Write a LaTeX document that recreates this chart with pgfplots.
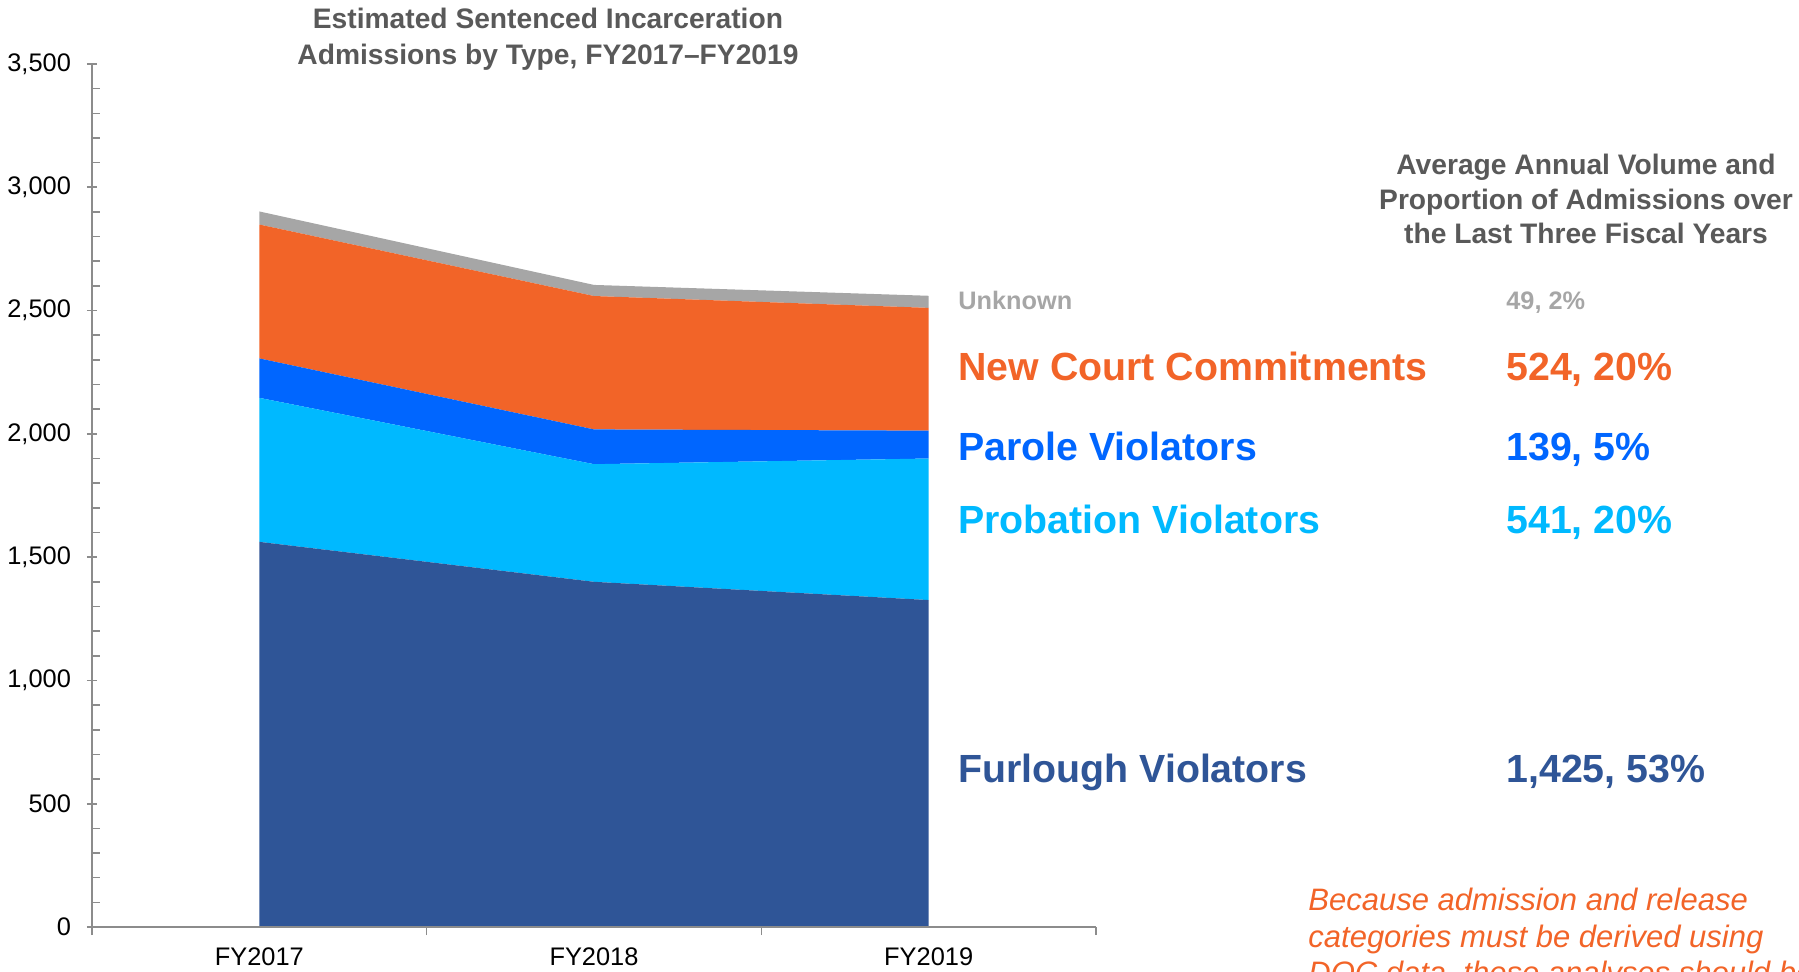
\documentclass[border=0pt]{standalone}
\usepackage{pgfplots}
\pgfplotsset{compat=1.18}
\usepackage{fontspec}
\setmainfont{Liberation Sans}
\definecolor{furl}{HTML}{2F5597}
\definecolor{prob}{HTML}{00B9FF}
\definecolor{parole}{HTML}{0066FF}
\definecolor{ncc}{HTML}{F26428}
\definecolor{unk}{HTML}{A6A6A6}
\definecolor{titlegray}{HTML}{595959}
\definecolor{axgray}{HTML}{8C8C8C}
\begin{document}
\begin{tikzpicture}
\useasboundingbox (0,0) rectangle (899.5pt,485.5pt);
\begin{axis}[
  at={(46pt,22pt)}, anchor=south west,
  scale only axis, width=502pt, height=431.5pt,
  xmin=-0.5, xmax=2.5, ymin=0, ymax=3500,
  axis x line=bottom, axis y line=left,
  axis line style={-, draw=axgray, line width=0.8pt},
  xtick={0,1,2}, xticklabels={FY2017,FY2018,FY2019},
  major x tick style={draw=none},
  minor xtick={-0.5,0.5,1.5,2.5},
  minor x tick style={draw=axgray, line width=0.8pt, yshift=-2pt},
  ytick distance=500, minor y tick num=4,
  tick align=center, major tick length=5pt, minor tick length=4pt,
  major y tick style={draw=axgray, line width=0.8pt},
  minor y tick style={draw=axgray, line width=0.8pt, xshift=2pt},
  tick label style={font=\fontsize{12.7}{14}\selectfont, text=black},
  yticklabel style={xshift=-4.5pt},
  xticklabel style={yshift=-4.5pt},
  scaled y ticks=false,
  /pgf/number format/1000 sep={,},
  /pgf/number format/assume math mode=true,
  stack plots=y, area style,
]
% Furlough Violators
\addplot[fill=furl, draw=none] coordinates {(0,1562) (1,1400) (2,1326)} \closedcycle;
% Probation Violators
\addplot[fill=prob, draw=none] coordinates {(0,584) (1,477) (2,574)} \closedcycle;
% Parole Violators
\addplot[fill=parole, draw=none] coordinates {(0,160) (1,141) (2,113)} \closedcycle;
% New Court Commitments
\addplot[fill=ncc, draw=none] coordinates {(0,543) (1,541) (2,498)} \closedcycle;
% Unknown
\addplot[fill=unk, draw=none] coordinates {(0,53) (1,45) (2,49)} \closedcycle;
\end{axis}
\begin{scope}[x=0.5pt,y=0.5pt]
\node[align=center, font=\fontsize{14.1}{17.8}\selectfont\bfseries, text=titlegray] at (548,932)
  {Estimated Sentenced Incarceration\\Admissions by Type, FY2017--FY2019};
\node[align=center, font=\fontsize{14.1}{17.2}\selectfont\bfseries, text=titlegray] at (1586,772)
  {Average Annual Volume and\\Proportion of Admissions over\\the Last Three Fiscal Years};
\begin{scope}[every node/.style={inner sep=0pt, anchor=base west}]
\node[font=\fontsize{12.65}{14}\selectfont\bfseries, text=unk] at (958,661) {Unknown};
\node[font=\fontsize{12.65}{14}\selectfont\bfseries, text=unk] at (1506,661) {49, 2\%};
\node[font=\fontsize{19.65}{22}\selectfont\bfseries, text=ncc] at (958,590) {New Court Commitments};
\node[font=\fontsize{19.65}{22}\selectfont\bfseries, text=ncc] at (1506,590) {524, 20\%};
\node[font=\fontsize{19.65}{22}\selectfont\bfseries, text=parole] at (958,511) {Parole Violators};
\node[font=\fontsize{19.65}{22}\selectfont\bfseries, text=parole] at (1506,511) {139, 5\%};
\node[font=\fontsize{19.65}{22}\selectfont\bfseries, text=prob] at (958,438) {Probation Violators};
\node[font=\fontsize{19.65}{22}\selectfont\bfseries, text=prob] at (1506,438) {541, 20\%};
\node[font=\fontsize{19.65}{22}\selectfont\bfseries, text=furl] at (958,189) {Furlough Violators};
\node[font=\fontsize{19.65}{22}\selectfont\bfseries, text=furl] at (1506,189) {1,425, 53\%};
\node[font=\fontsize{15.5}{18}\selectfont\itshape, text=ncc] at (1308,61) {Because admission and release};
\node[font=\fontsize{15.5}{18}\selectfont\itshape, text=ncc] at (1308,24) {categories must be derived using};
\node[font=\fontsize{15.5}{18}\selectfont\itshape, text=ncc] at (1308,-12) {DOC data, these analyses should be};
\end{scope}
\end{scope}
\end{tikzpicture}
\end{document}
